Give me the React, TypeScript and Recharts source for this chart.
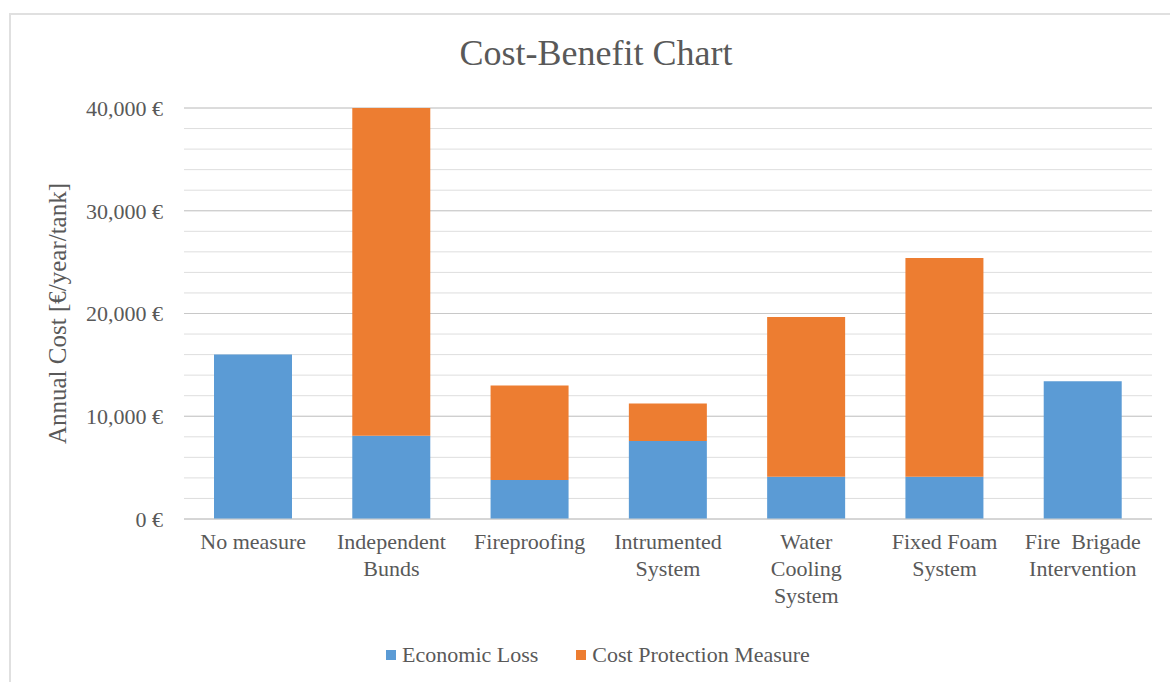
import { BarChart, Bar, XAxis, YAxis, CartesianGrid } from 'recharts'

const categories = [
  'No measure',
  'Independent\nBunds',
  'Fireproofing',
  'Intrumented\nSystem',
  'Water\nCooling\nSystem',
  'Fixed Foam\nSystem',
  'Fire  Brigade\nIntervention',
]
const economicLoss = [16000, 8100, 3800, 7600, 4100, 4100, 13400]
const costProtection = [0, 31900, 9200, 3650, 15550, 21300, 0]
const gridTicks = [0, 2000, 4000, 6000, 8000, 10000, 12000, 14000, 16000, 18000, 20000, 22000, 24000, 26000, 28000, 30000, 32000, 34000, 36000, 38000, 40000]
const labelTicks = [0, 10000, 20000, 30000, 40000]

const seriesNames = ['Economic Loss', 'Cost Protection Measure']
const colors = ['#5B9BD5', '#ED7D31']

const FONT = '"Liberation Serif", "Times New Roman", serif'
const TEXT = '#595959'

const data = categories.map((c, i) => ({
  name: c,
  loss: economicLoss[i],
  cost: costProtection[i],
}))

const fmt = (v: number) => (labelTicks.includes(v) ? `${v.toLocaleString('en-US')} €` : '')

const CategoryTick = ({ x, y, payload }: { x?: number; y?: number; payload?: { value: string } }) => {
  const lines = (payload?.value ?? '').split('\n')
  return (
    <text x={x} y={y} textAnchor="middle" fill={TEXT} fontFamily={FONT} fontSize={22} style={{ whiteSpace: 'pre' }}>
      {lines.map((l, i) => (
        <tspan key={i} x={x} dy={i === 0 ? 22 : 27}>
          {l}
        </tspan>
      ))}
    </text>
  )
}

export default function App() {
  return (
    <div style={{ position: 'absolute', left: 0, top: 0, width: 1170, height: 682, background: '#fff', overflow: 'hidden' }}>
      <div
        style={{
          position: 'absolute',
          left: 9,
          top: 13,
          width: 1200,
          height: 700,
          borderTop: '2px solid #e0e0e0',
          borderLeft: '2px solid #e0e0e0',
        }}
      />
      <div
        style={{
          position: 'absolute',
          top: 32,
          left: 0,
          width: 1192,
          textAlign: 'center',
          fontFamily: FONT,
          fontSize: 36,
          color: TEXT,
        }}
      >
        Cost-Benefit Chart
      </div>
      <div style={{ position: 'absolute', left: 0, top: 0 }}>
        <BarChart
          width={1170}
          height={682}
          data={data}
          margin={{ top: 108, right: 18, bottom: 0, left: 0 }}
        >
          <CartesianGrid stroke="#dedede" vertical={false} />
          <CartesianGrid stroke="#c8c8c8" vertical={false} horizontalValues={labelTicks} />
          <XAxis
            dataKey="name"
            interval={0}
            tick={<CategoryTick />}
            tickLine={false}
            axisLine={{ stroke: '#d0d0d0' }}
            height={163}
          />
          <YAxis
            width={184}
            domain={[0, 40000]}
            ticks={gridTicks}
            interval={0}
            tickFormatter={fmt}
            tickLine={false}
            axisLine={false}
            tickSize={0}
            tickMargin={21}
            tick={{ fill: TEXT, fontFamily: FONT, fontSize: 22 }}
            label={{
              value: 'Annual Cost [€/year/tank]',
              angle: -90,
              position: 'insideLeft',
              dx: 52,
              style: { textAnchor: 'middle', fill: TEXT, fontFamily: FONT, fontSize: 25 },
            }}
          />
          <Bar dataKey="loss" name={seriesNames[0]} stackId="a" fill={colors[0]} barSize={78} isAnimationActive={false} />
          <Bar dataKey="cost" name={seriesNames[1]} stackId="a" fill={colors[1]} barSize={78} isAnimationActive={false} />
        </BarChart>
      </div>
      <div
        style={{
          position: 'absolute',
          top: 642,
          left: 0,
          width: 1196,
          display: 'flex',
          justifyContent: 'center',
          gap: 38,
          fontFamily: FONT,
          fontSize: 22,
          color: TEXT,
        }}
      >
        {seriesNames.map((n, i) => (
          <div key={n} style={{ display: 'flex', alignItems: 'center' }}>
            <span style={{ width: 10, height: 10, background: colors[i], display: 'inline-block', marginRight: 6 }} />
            {n}
          </div>
        ))}
      </div>
    </div>
  )
}
